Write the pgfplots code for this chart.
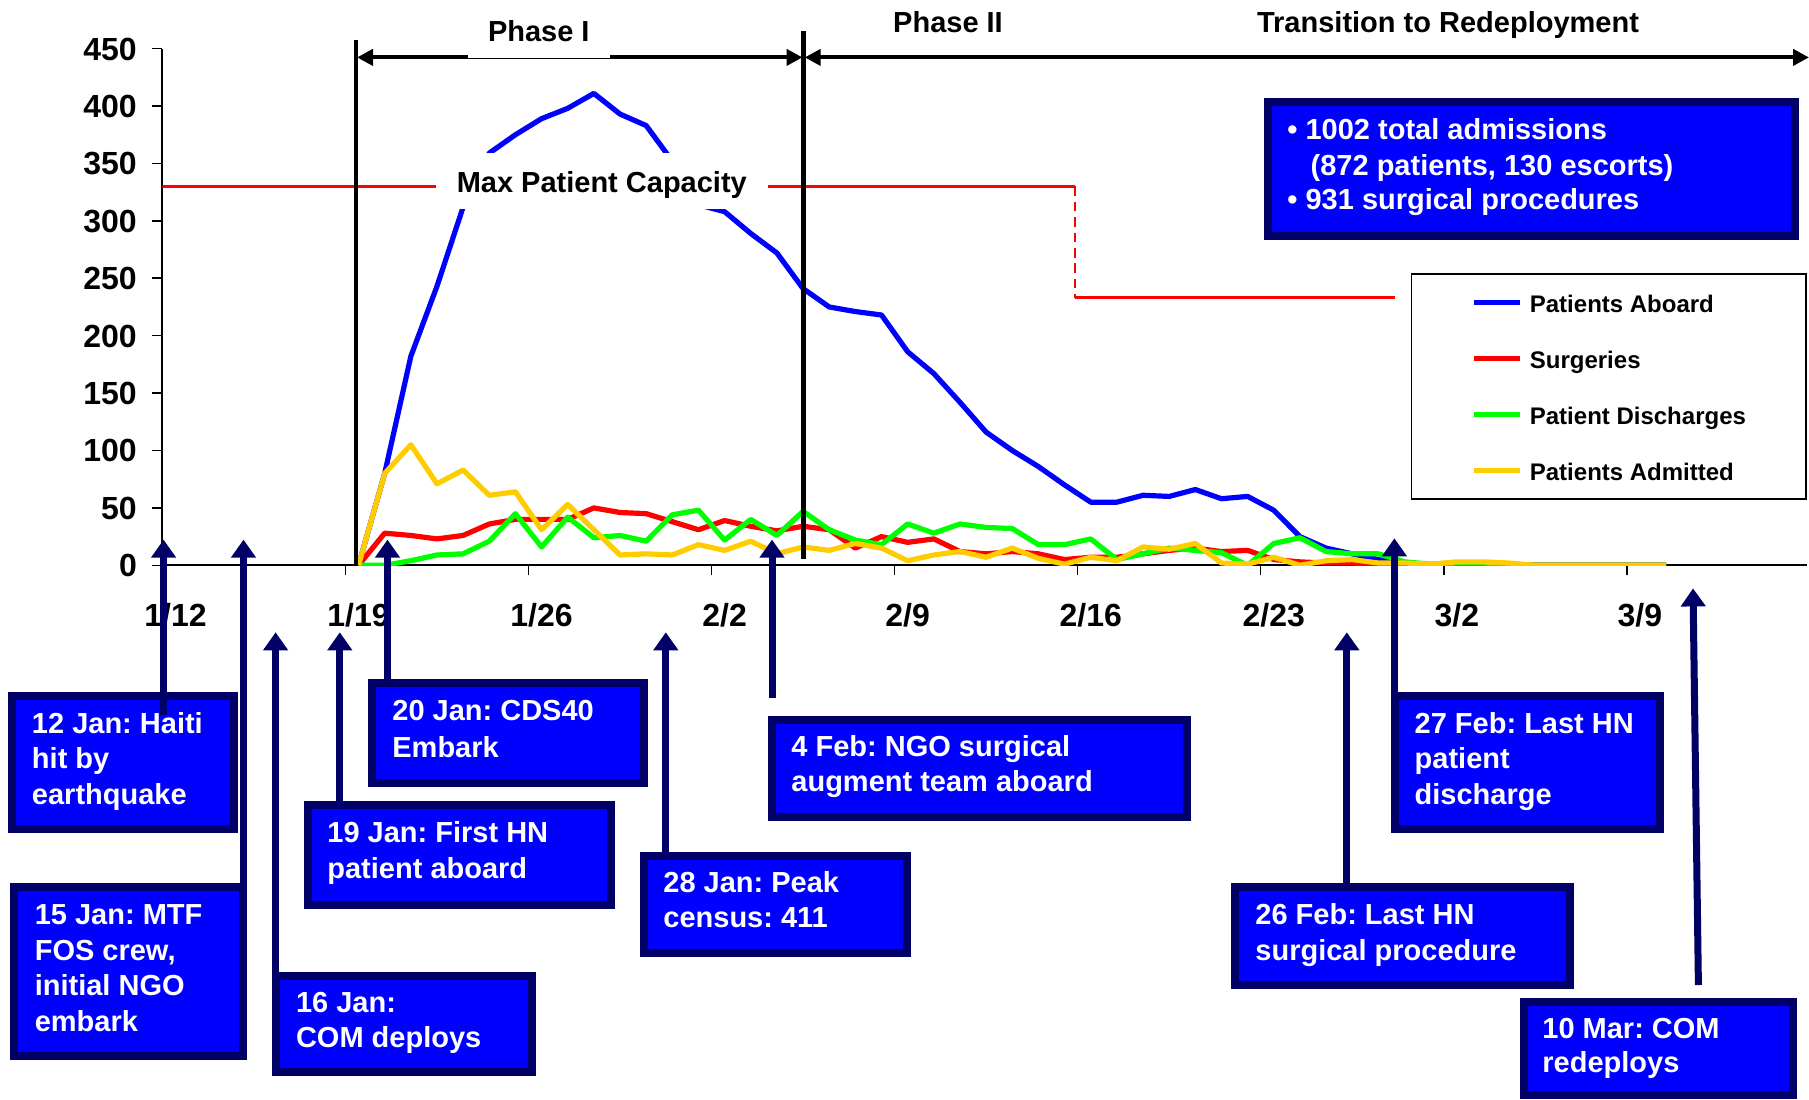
\documentclass[border=0pt]{standalone}
\usepackage{fontspec}
\setmainfont{Liberation Sans}
\usepackage{pgfplots}
\usepackage{pgfplotstable}
\pgfplotsset{compat=1.18}
\usetikzlibrary{arrows.meta}
\definecolor{navy}{RGB}{0,0,102}
\definecolor{boxblue}{RGB}{0,0,255}
\definecolor{pblue}{RGB}{0,0,255}
\definecolor{pred}{RGB}{255,0,0}
\definecolor{pgreen}{RGB}{0,255,0}
\definecolor{pyellow}{RGB}{255,204,0}
\newcommand\fa{\fontsize{14.5pt}{17pt}\selectfont}
\newcommand\fl{\fontsize{12pt}{14pt}\selectfont}
\newcommand\ft{\fontsize{16pt}{19pt}\selectfont}
\pgfplotstableread{
day aboard surg disch admit
7 0 0 0 0
8 80 28 0 80
9 182 26 4 105
10 243 23 9 71
11 312 26 10 83
12 359 36 21 61
13 375 40 45 64
14 389 40 16 31
15 398 40 42 53
16 411 50 24 31
17 393 46 26 9
18 383 45 21 10
19 352 38 44 9
20 314 31 48 18
21 308 39 22 13
22 289 34 40 21
23 272 30 26 10
24 241 34 47 16
25 225 31 31 13
26 221 15 22 19
27 218 25 18 15
28 186 20 36 4
29 167 23 28 9
30 142 12 36 12
31 116 10 33 7
32 100 12 32 15
33 86 10 18 6
34 70 5 18 1
35 55 7 23 7
36 55 7 5 4
37 61 10 10 16
38 60 13 15 14
39 66 15 13 19
40 58 12 11 2
41 60 13 0 1
42 48 5 19 7
43 25 3 24 0
44 15 2 12 4
45 10 2 10 5
46 5 0 10 2
47 1 0 3 2
48 0 0 1 1
49 0 1 2 3
50 0 1 2 3
51 0 0 1 2
52 0 0 0 0
53 0 0 0 0
54 0 0 0 0
55 0 0 0 0
56 0 0 0 0
57 0 0 0 0
}\data
\begin{document}
\frenchspacing
\bfseries
\begin{tikzpicture}[x=0.5pt,y=-0.5pt]
\useasboundingbox (0,0) rectangle (1809,1099);
\begin{axis}[
 at={(81.2pt,-282.65pt)}, anchor=south west, scale only axis,
 width=822.4pt, height=258.35pt,
 xmin=-0.5, xmax=62.4, ymin=0, ymax=450,
 axis x line=bottom, axis y line=left,
 axis line style={-, line width=1pt, black},
 tick align=outside, major tick length=5pt,
 tick style={line width=0.8pt, black},
 ytick={0,50,...,450},
 xtick={6.5,13.5,20.5,27.5,34.5,41.5,48.5,55.5},
 xticklabels={,,,,,,,},
 extra x ticks={0,7,14,21,28,35,42,49,56},
 extra x tick labels={1/12,1/19,1/26,2/2,2/9,2/16,2/23,3/2,3/9},
 extra x tick style={major tick length=0pt},
 /pgf/number format/assume math mode=true,
 tick label style={font=\ft},
 yticklabel style={anchor=base east, inner sep=0pt, xshift=-7.6pt, yshift=-5.75pt},
 xticklabel style={anchor=base, inner sep=0pt, yshift=-30.6pt},
 legend style={at={(0.9997,0.565)}, anchor=north east, draw=black, line width=0.75pt, fill=white, font=\fl, inner xsep=30pt, inner ysep=8.25pt, row sep=16pt, column sep=3.5pt, nodes={inner sep=0pt, text height=10.7pt, text depth=1.3pt}},
 legend cell align=left,
 legend image code/.code={\draw[#1] (0pt,0pt) -- (23pt,0pt);},
]
\addplot[pred, line width=1.7pt, forget plot] coordinates {(-0.5,330) (34.4,330)};
\addplot[pred, line width=1.2pt, dash pattern=on 4.8pt off 2.9pt, forget plot] coordinates {(34.4,330) (34.4,233)};
\addplot[pred, line width=1.7pt, forget plot] coordinates {(34.4,233) (46.64,233)};
\addplot[pblue, line width=2.6pt, line join=round] table[x=day,y=aboard] {\data};
\addlegendentry{Patients Aboard}
\addplot[pred, line width=2.6pt, line join=round] table[x=day,y=surg] {\data};
\addlegendentry{Surgeries}
\addplot[pgreen, line width=2.6pt, line join=round] table[x=day,y=disch] {\data};
\addlegendentry{Patient Discharges}
\addplot[pyellow, line width=2.6pt, line join=round] table[x=day,y=admit] {\data};
\addlegendentry{Patients Admitted}
\end{axis}
% Max patient capacity label
\fill[white] (436,153) rectangle (768,208.6);
\node[anchor=base, inner sep=0pt, font=\fa] at (601.8,192.5) {Max Patient Capacity};
% phase lines
\draw[line width=2.4pt] (355.9,40.2) -- (355.9,566.4);
\draw[line width=2.4pt] (803.6,31.4) -- (803.6,558.7);
\draw[line width=2pt, {Triangle[length=8pt,width=8pt]}-] (357,57.4) -- (468,57.4);
\draw[line width=2pt, -{Triangle[length=8pt,width=8pt]}] (610,57.4) -- (802.5,57.4);
\draw[line width=0.5pt] (468,58.6) -- (610,58.6);
\draw[line width=2pt, {Triangle[length=8pt,width=8pt]}-{Triangle[length=8pt,width=8pt]}] (804.7,57.4) -- (1809,57.4);
\node[anchor=base, inner sep=0pt, font=\fa] at (538.8,41) {Phase I};
\node[anchor=base, inner sep=0pt, font=\fa] at (948,32.5) {Phase II};
\node[anchor=base, inner sep=0pt, font=\fa] at (1448,32.5) {Transition to Redeployment};
% info box
\draw[navy, line width=4pt, fill=boxblue] (1268,102) rectangle (1795.4,235.6);
\node[anchor=base west, inner sep=0pt, font=\fa, text=white] at (1287,139.7) {\textbullet\ 1002 total admissions};
\node[anchor=base west, inner sep=0pt, font=\fa, text=white] at (1310.3,175.3) {(872 patients, 130 escorts)};
\node[anchor=base west, inner sep=0pt, font=\fa, text=white] at (1287,209.7) {\textbullet\ 931 surgical procedures};
% annotation boxes
\tikzset{abox/.style={navy, line width=4pt, fill=boxblue}, atxt/.style={anchor=base west, inner sep=0pt, font=\fa, text=white}, aarr/.style={navy, line width=3.5pt, -{Triangle[length=9pt,width=12pt]}}}
% box 1
\draw[abox] (12,696) rectangle (233.7,829);
\node[atxt] at (31.6,733) {12 Jan: Haiti};
\node[atxt] at (31.6,768.5) {hit by};
\node[atxt] at (31.6,804) {earthquake};
% box 2
\draw[abox] (14.3,887.4) rectangle (242.8,1055.7);
\node[atxt] at (34.4,924.4) {15 Jan: MTF};
\node[atxt] at (34.4,960) {FOS crew,};
\node[atxt] at (34.4,995.6) {initial NGO};
\node[atxt] at (34.4,1031) {embark};
% box 3
\draw[abox] (276,975.6) rectangle (531.5,1072.4);
\node[atxt] at (295.6,1012.5) {16 Jan:};
\node[atxt] at (295.6,1047.4) {COM deploys};
% box 4
\draw[abox] (308,805) rectangle (611,905.4);
\node[atxt] at (327,842.2) {19 Jan: First HN};
\node[atxt] at (327,878.8) {patient aboard};
% box 5
\draw[abox] (372,682.8) rectangle (643.5,783.3);
\node[atxt] at (392,720.4) {20 Jan: CDS40};
\node[atxt] at (392,757) {Embark};
% box 6
\draw[abox] (644,855.8) rectangle (907.4,953);
\node[atxt] at (663,892.7) {28 Jan: Peak};
\node[atxt] at (663,927.7) {census: 411};
% box 7
\draw[abox] (772,719.8) rectangle (1186.7,817);
\node[atxt] at (791,756.4) {4 Feb: NGO surgical};
\node[atxt] at (791,791.3) {augment team aboard};
% box 8
\draw[abox] (1235,887.4) rectangle (1570,984.6);
\node[atxt] at (1255,924.4) {26 Feb: Last HN};
\node[atxt] at (1255,960) {surgical procedure};
% box 9
\draw[abox] (1395,696) rectangle (1659.6,829);
\node[atxt] at (1414.3,733) {27 Feb: Last HN};
\node[atxt] at (1414.3,768.5) {patient};
\node[atxt] at (1414.3,804) {discharge};
% box 10
\draw[abox] (1523.7,1001.5) rectangle (1793.3,1095);
\node[atxt] at (1542,1038.5) {10 Mar: COM};
\node[atxt] at (1542,1072) {redeploys};
% arrows
\draw[aarr] (163.6,715) -- (163.6,539.6);
\draw[aarr] (243.5,888) -- (243.5,539.6);
\draw[aarr] (275.6,974) -- (275.6,632.3);
\draw[aarr] (339.8,803) -- (339.8,632.3);
\draw[aarr] (387.5,681) -- (387.5,539.6);
\draw[aarr] (665.8,854) -- (665.8,632.3);
\draw[aarr] (772,697.5) -- (772,539.6);
\draw[aarr] (1346.8,885) -- (1346.8,632.3);
\draw[aarr] (1394.4,694) -- (1394.4,538.3);
\draw[aarr] (1698.4,985) -- (1693,588.4);
\end{tikzpicture}
\end{document}
